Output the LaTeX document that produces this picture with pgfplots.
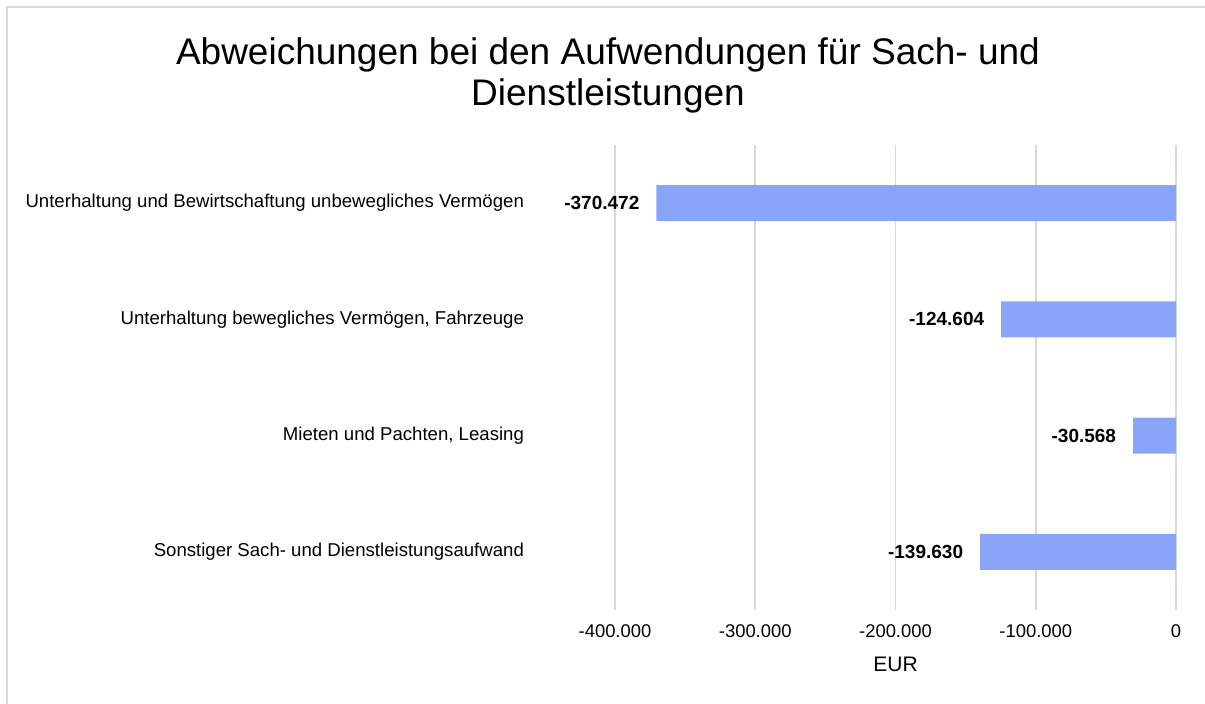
\documentclass[border=0pt]{standalone}
\usepackage{fontspec}
\setmainfont{Liberation Sans}
\usepackage{pgfplots}
\pgfplotsset{compat=1.18}
\definecolor{barblue}{HTML}{8AA4F8}
\definecolor{gridgray}{HTML}{D9D9D9}

\begin{document}
\begin{tikzpicture}
\useasboundingbox (0,0) rectangle (602.5pt,-352pt);
% frame of the chart area
\draw[gridgray, line width=0.8pt] (3.5pt,-3.5pt) rectangle (610pt,-360pt);
% title
\node[align=center, font=\fontsize{18.5}{20.5}\selectfont] at (304pt,-37.5pt)
  {Abweichungen bei den Aufwendungen für Sach- und\\Dienstleistungen};

\begin{axis}[
    at={(307.5pt,-305pt)},
    anchor=south west,
    scale only axis,
    width=280.5pt,
    height=232.5pt,
    xbar,
    bar width=0.31,
    xmin=-400000, xmax=0,
    ymin=-0.5, ymax=3.5,
    y dir=reverse,
    xtick={-400000,-300000,-200000,-100000,0},
    scaled x ticks=false,
    xticklabel style={font=\fontsize{9.2}{11}\selectfont, yshift=-3.8pt,
        /pgf/number format/.cd, fixed, precision=0, 1000 sep={.}, assume math mode=true},
    ytick={0,1,2,3},
    yticklabels={Unterhaltung und Bewirtschaftung unbewegliches Vermögen,
                 {Unterhaltung bewegliches Vermögen, Fahrzeuge},
                 {Mieten und Pachten, Leasing},
                 Sonstiger Sach- und Dienstleistungsaufwand},
    yticklabel style={font=\fontsize{9.3}{11}\selectfont, anchor=east, xshift=-42pt},
    major tick length=0pt,
    xmajorgrids=true,
    ymajorgrids=false,
    grid style={gridgray, line width=0.8pt},
    axis line style={draw=none},
    tick style={draw=none},
    xlabel={EUR},
    every axis x label/.style={at={(axis description cs:0.5,0)}, anchor=center,
        yshift=-27pt, font=\fontsize{10.5}{12}\selectfont},
    point meta=x,
    nodes near coords={\pgfmathprintnumber[fixed, precision=0, 1000 sep={.}, assume math mode=true]{\pgfplotspointmeta}},
    nodes near coords align={horizontal},
    every node near coord/.append style={font=\fontsize{9.5}{11}\selectfont\bfseries, xshift=-5pt},
]
\addplot[fill=barblue, draw=none] coordinates {
    (-370472,0) (-124604,1) (-30568,2) (-139630,3)
};
\end{axis}
\end{tikzpicture}
\end{document}
